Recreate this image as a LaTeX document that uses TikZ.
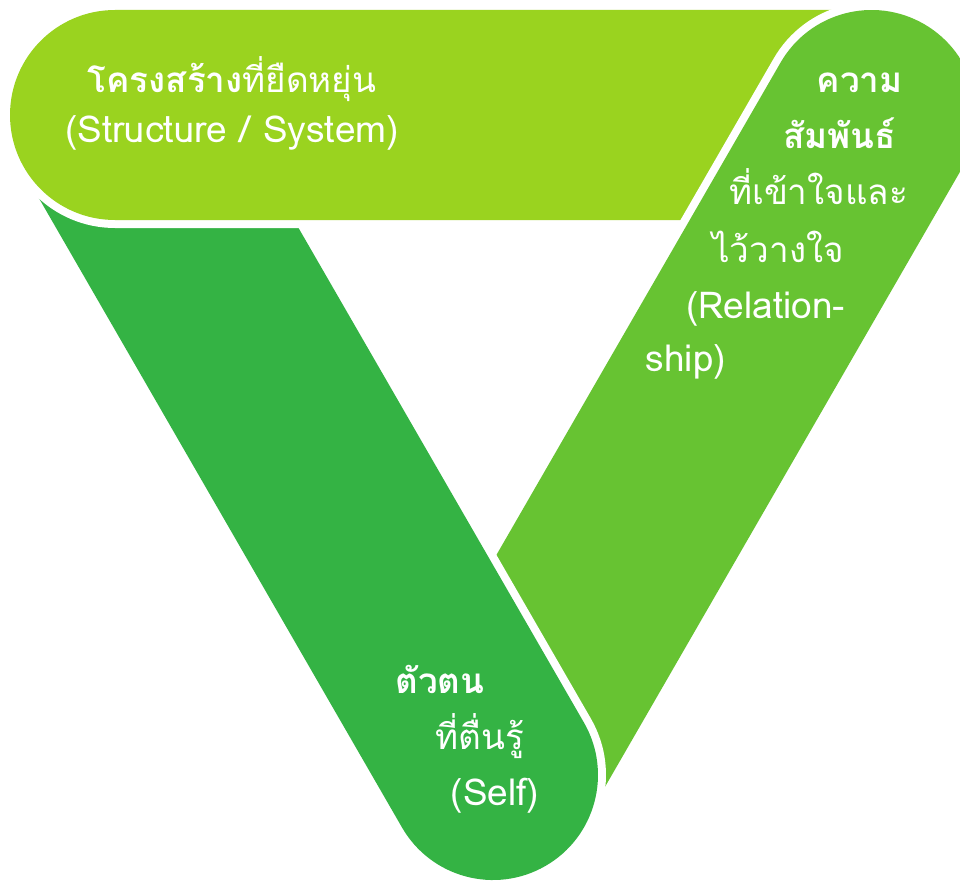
\documentclass[tikz,border=0pt]{standalone}
\usepackage{fontspec}
\usepackage{tikz}
\newfontfamily\thaifont[Script=Thai]{Loma}
\definecolor{structgreen}{HTML}{9AD31F}
\definecolor{relgreen}{HTML}{67C332}
\definecolor{selfgreen}{HTML}{34B344}
\tikzset{band/.style = {preaction = {draw = white, line width = 16}}}
\tikzset{txt/.style = {text = white, inner sep = 0, anchor = base,
                       font = \thaifont\fontsize{35}{40}\selectfont}}
\tikzset{latin/.style = {txt, font = \thaifont\fontsize{37}{42}\selectfont}}
\newcommand{\relband}{(423.1, 682) -- (780.6, 62.5)
  arc [start angle = 210, end angle = 390, radius = 105] -- (604.9, 787) -- cycle}

\begin{document}
\begin{tikzpicture}[x = 1pt, y = 1pt, yscale = -1]
  \useasboundingbox (0, 0) rectangle (960, 880);
  \clip (0, 0) rectangle (960, 880);

  \fill [relgreen, band] \relband;
  \fill [selfgreen, band] (37.1, 195) -- (279.5, 195) -- (583.9, 722.5)
    arc [start angle = -30, end angle = 150, radius = 105] -- cycle;
  \fill [structgreen, band] (850, 10) -- (115, 10)
    arc [start angle = 270, end angle = 90, radius = 105] -- (850, 220) -- cycle;
  % relationship band again, over the end of the structure band
  \begin{scope}
    \clip (600, 0) rectangle (960, 300);
    \fill [relgreen, band] \relband;
  \end{scope}

  \node [txt] (struct1) at (232, 93) {{\bfseries โครงสร้าง}ที่ยืดหยุ่น};
  \node [latin] (struct2) at (232, 142) {(Structure / System)};

  \node [txt] (rel1) at (859.5, 93) {\bfseries ความ};
  \node [txt] (rel2) at (839.5, 148) {\bfseries สัมพันธ์};
  \node [txt] (rel3) at (818.5, 204) {ที่เข้าใจและ};
  \node [txt] (rel4) at (778, 262) {ไว้วางใจ};
  \node [latin] (rel5) at (765.5, 318) {(Relation-};
  \node [latin] (rel6) at (686, 371) {ship)};

  \node [txt] (self1) at (440, 693) {\bfseries ตัวตน};
  \node [txt] (self2) at (480, 749) {ที่ตื่นรู้};
  \node [latin] (self3) at (495, 805) {(Self)};
\end{tikzpicture}
\end{document}
